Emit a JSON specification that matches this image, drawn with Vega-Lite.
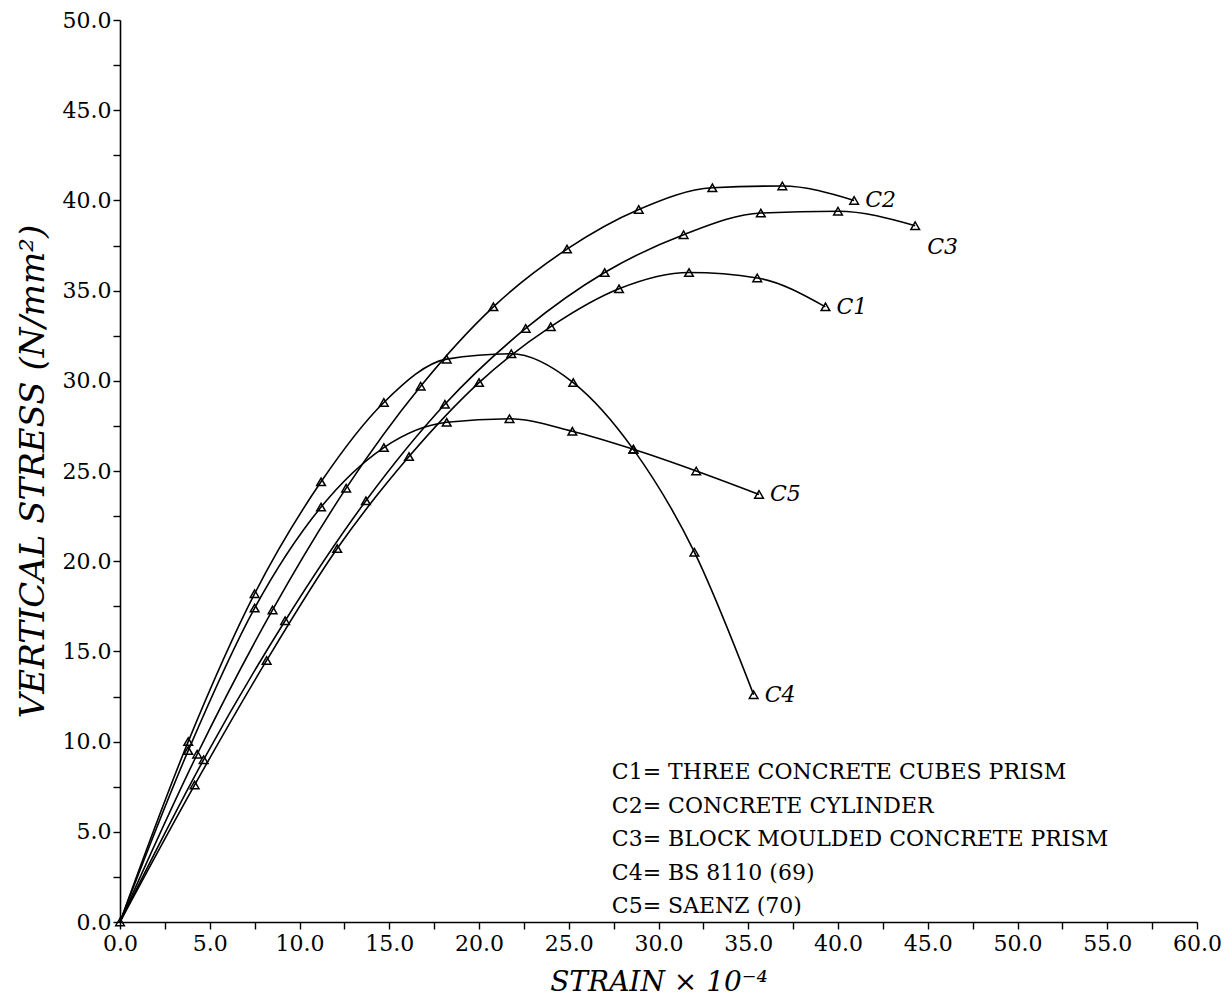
{
  "$schema": "https://vega.github.io/schema/vega-lite/v6.json",
  "width": 1077,
  "height": 902,
  "autosize": {"type": "none"},
  "padding": {"left": 120, "top": 20, "right": 35, "bottom": 80},
  "background": "white",
  "config": {
    "view": {"stroke": null},
    "font": "DejaVu Serif",
    "axis": {
      "grid": false,
      "domainColor": "black",
      "domainWidth": 1.6,
      "tickColor": "black",
      "tickWidth": 1.4,
      "tickSize": 7,
      "labelColor": "black",
      "labelFont": "DejaVu Serif",
      "labelFontSize": 22,
      "labelOverlap": false,
      "labelFlush": false,
      "titleColor": "black",
      "titleFont": "DejaVu Serif",
      "titleFontStyle": "italic",
      "titleFontWeight": "normal"
    }
  },
  "datasets": {
    "curves": [
      {"series": "C1", "strain": 0, "stress": 0},
      {"series": "C1", "strain": 4.16, "stress": 7.6},
      {"series": "C1", "strain": 8.17, "stress": 14.5},
      {"series": "C1", "strain": 12.1, "stress": 20.7},
      {"series": "C1", "strain": 16.1, "stress": 25.8},
      {"series": "C1", "strain": 20.0, "stress": 29.9},
      {"series": "C1", "strain": 24.0, "stress": 33.0},
      {"series": "C1", "strain": 27.8, "stress": 35.1},
      {"series": "C1", "strain": 31.7, "stress": 36.0},
      {"series": "C1", "strain": 35.5, "stress": 35.7},
      {"series": "C1", "strain": 39.3, "stress": 34.1},

      {"series": "C2", "strain": 0, "stress": 0},
      {"series": "C2", "strain": 4.3, "stress": 9.3},
      {"series": "C2", "strain": 8.5, "stress": 17.3},
      {"series": "C2", "strain": 12.6, "stress": 24.05},
      {"series": "C2", "strain": 16.75, "stress": 29.7},
      {"series": "C2", "strain": 20.8, "stress": 34.1},
      {"series": "C2", "strain": 24.9, "stress": 37.3},
      {"series": "C2", "strain": 28.9, "stress": 39.5},
      {"series": "C2", "strain": 33.0, "stress": 40.7},
      {"series": "C2", "strain": 36.9, "stress": 40.8},
      {"series": "C2", "strain": 40.9, "stress": 40.0},

      {"series": "C3", "strain": 0, "stress": 0},
      {"series": "C3", "strain": 4.66, "stress": 9.0},
      {"series": "C3", "strain": 9.2, "stress": 16.7},
      {"series": "C3", "strain": 13.7, "stress": 23.35},
      {"series": "C3", "strain": 18.1, "stress": 28.7},
      {"series": "C3", "strain": 22.6, "stress": 32.9},
      {"series": "C3", "strain": 27.0, "stress": 36.0},
      {"series": "C3", "strain": 31.4, "stress": 38.1},
      {"series": "C3", "strain": 35.7, "stress": 39.3},
      {"series": "C3", "strain": 40.0, "stress": 39.4},
      {"series": "C3", "strain": 44.3, "stress": 38.6},

      {"series": "C4", "strain": 0, "stress": 0},
      {"series": "C4", "strain": 3.8, "stress": 10.0},
      {"series": "C4", "strain": 7.5, "stress": 18.2},
      {"series": "C4", "strain": 11.2, "stress": 24.4},
      {"series": "C4", "strain": 14.7, "stress": 28.8},
      {"series": "C4", "strain": 18.2, "stress": 31.2},
      {"series": "C4", "strain": 21.8, "stress": 31.5},
      {"series": "C4", "strain": 25.25, "stress": 29.9},
      {"series": "C4", "strain": 28.6, "stress": 26.2},
      {"series": "C4", "strain": 32.0, "stress": 20.5},
      {"series": "C4", "strain": 35.3, "stress": 12.6},

      {"series": "C5", "strain": 0, "stress": 0},
      {"series": "C5", "strain": 3.8, "stress": 9.5},
      {"series": "C5", "strain": 7.5, "stress": 17.4},
      {"series": "C5", "strain": 11.2, "stress": 23.0},
      {"series": "C5", "strain": 14.7, "stress": 26.3},
      {"series": "C5", "strain": 18.2, "stress": 27.7},
      {"series": "C5", "strain": 21.7, "stress": 27.9},
      {"series": "C5", "strain": 25.2, "stress": 27.2},
      {"series": "C5", "strain": 28.6, "stress": 26.2},
      {"series": "C5", "strain": 32.1, "stress": 25.0},
      {"series": "C5", "strain": 35.6, "stress": 23.7}
    ],
    "notes": [
      {"line": 1, "note": "C1= THREE CONCRETE CUBES PRISM"},
      {"line": 2, "note": "C2= CONCRETE CYLINDER"},
      {"line": 3, "note": "C3= BLOCK MOULDED CONCRETE PRISM"},
      {"line": 4, "note": "C4= BS 8110 (69)"},
      {"line": 5, "note": "C5= SAENZ (70)"}
    ]
  },
  "layer": [
    {
      "data": {"name": "curves"},
      "mark": {"type": "line", "interpolate": "monotone", "color": "black", "strokeWidth": 1.6},
      "encoding": {
        "x": {
          "field": "strain",
          "type": "quantitative",
          "scale": {"domain": [0, 60], "nice": false, "zero": true},
          "axis": {
            "title": "STRAIN × 10⁻⁴",
            "titleFontSize": 28,
            "titlePadding": 14,
            "values": [0, 2.5, 5, 7.5, 10, 12.5, 15, 17.5, 20, 22.5, 25, 27.5, 30, 32.5, 35, 37.5, 40, 42.5, 45, 47.5, 50, 52.5, 55, 57.5, 60],
            "labelExpr": "datum.value % 5 === 0 ? format(datum.value, '.1f') : ''",
            "labelPadding": 4
          }
        },
        "y": {
          "field": "stress",
          "type": "quantitative",
          "scale": {"domain": [0, 50], "nice": false, "zero": true},
          "axis": {
            "title": "VERTICAL STRESS (N/mm²)",
            "titleFontSize": 34,
            "titlePadding": 12,
            "values": [0, 2.5, 5, 7.5, 10, 12.5, 15, 17.5, 20, 22.5, 25, 27.5, 30, 32.5, 35, 37.5, 40, 42.5, 45, 47.5, 50],
            "labelExpr": "datum.value % 5 === 0 ? format(datum.value, '.1f') : ''",
            "labelPadding": 2
          }
        },
        "detail": {"field": "series"}
      }
    },
    {
      "data": {"name": "curves"},
      "transform": [
        {"filter": "datum.strain > 0 || datum.series === 'C1'"}
      ],
      "mark": {"type": "point", "shape": "triangle-up", "filled": false, "color": "black", "size": 75, "strokeWidth": 1.5, "opacity": 1},
      "encoding": {
        "x": {"field": "strain", "type": "quantitative"},
        "y": {"field": "stress", "type": "quantitative"}
      }
    },
    {
      "data": {"name": "curves"},
      "transform": [
        {"joinaggregate": [{"op": "max", "field": "strain", "as": "endStrain"}], "groupby": ["series"]},
        {"filter": "datum.strain === datum.endStrain && datum.series !== 'C3'"}
      ],
      "mark": {"type": "text", "align": "left", "baseline": "middle", "dx": 11, "fontSize": 22, "fontStyle": "italic", "color": "black"},
      "encoding": {
        "x": {"field": "strain", "type": "quantitative"},
        "y": {"field": "stress", "type": "quantitative"},
        "text": {"field": "series"}
      }
    },
    {
      "data": {"name": "curves"},
      "transform": [
        {"joinaggregate": [{"op": "max", "field": "strain", "as": "endStrain"}], "groupby": ["series"]},
        {"filter": "datum.strain === datum.endStrain && datum.series === 'C3'"}
      ],
      "mark": {"type": "text", "align": "left", "baseline": "middle", "dx": 12, "dy": 21, "fontSize": 22, "fontStyle": "italic", "color": "black"},
      "encoding": {
        "x": {"field": "strain", "type": "quantitative"},
        "y": {"field": "stress", "type": "quantitative"},
        "text": {"field": "series"}
      }
    },
    {
      "data": {"name": "notes"},
      "mark": {"type": "text", "align": "left", "baseline": "middle", "fontSize": 22, "color": "black"},
      "encoding": {
        "x": {"datum": 27.4, "type": "quantitative"},
        "y": {"datum": 8.3, "type": "quantitative"},
        "yOffset": {
          "field": "line",
          "type": "quantitative",
          "scale": {"domain": [1, 5], "range": [0, 134]}
        },
        "text": {"field": "note"}
      }
    }
  ]
}
